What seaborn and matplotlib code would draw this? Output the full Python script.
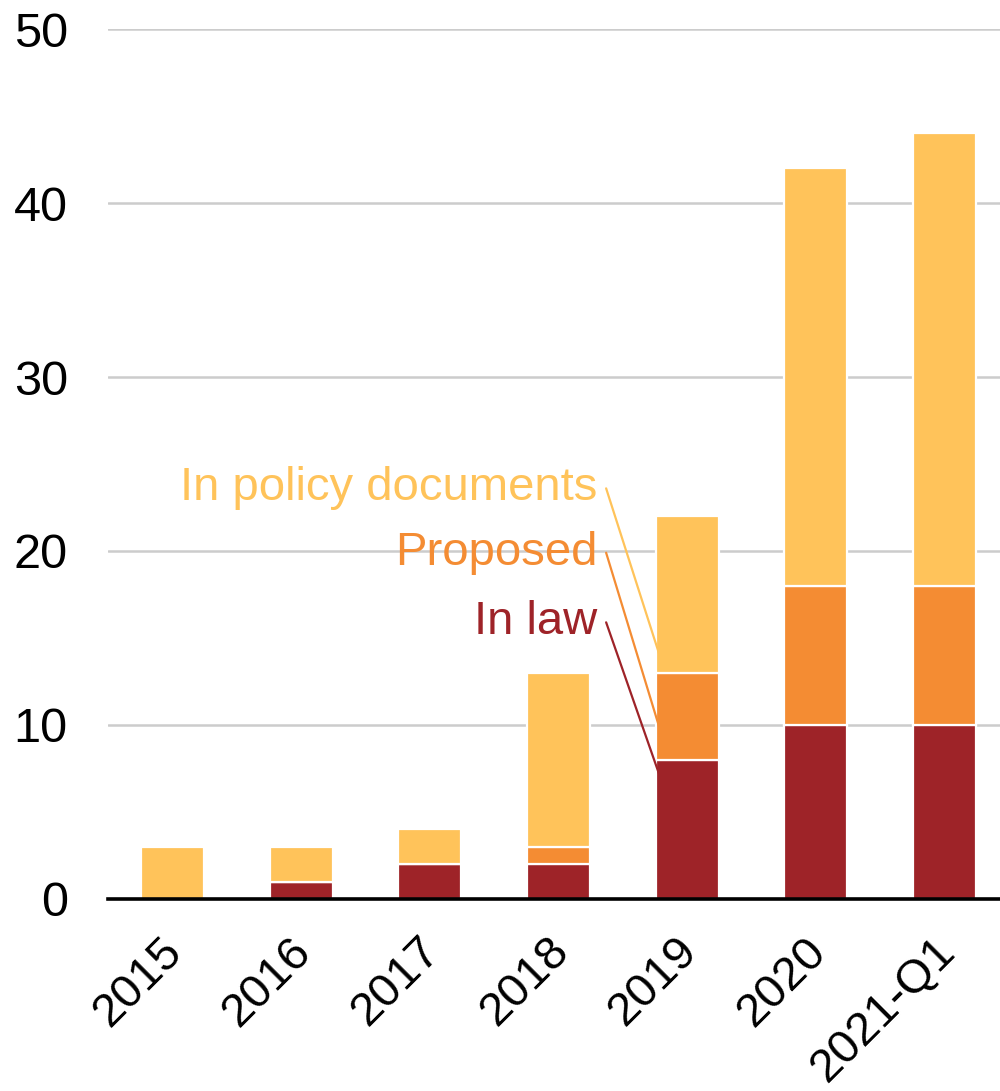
import matplotlib
matplotlib.use("Agg")
import matplotlib.pyplot as plt
import matplotlib.transforms as mtransforms
import seaborn as sns
import numpy as np
import pandas as pd

# Counts by status for each period
periods = ["2015", "2016", "2017", "2018", "2019", "2020", "2021-Q1"]
in_law = [0, 1, 2, 2, 8, 10, 10]
proposed = [0, 0, 0, 1, 5, 8, 8]
in_policy = [3, 2, 2, 10, 9, 24, 26]

c_law = "#9E2328"
c_prop = "#F48C33"
c_policy = "#FFC35A"

sns.set_theme(style="white")
plt.rcParams["font.family"] = ["Liberation Sans", "DejaVu Sans"]

df = pd.DataFrame({"period": periods, "law": in_law, "proposed": proposed, "policy": in_policy})
law_arr = np.array(in_law)
prop_arr = np.array(proposed)

fig = plt.figure(figsize=(10, 10.91), dpi=100)
ax = fig.add_axes([0.108, 0.176, 0.892, 0.7974])

bar_kw = dict(width=0.49, edgecolor="white", linewidth=1.6, saturation=1, order=periods)
sns.barplot(data=df, x="period", y="law", color=c_law, ax=ax, **bar_kw)
sns.barplot(data=df, x="period", y="proposed", color=c_prop, ax=ax, bottom=law_arr, **bar_kw)
sns.barplot(data=df, x="period", y="policy", color=c_policy, ax=ax, bottom=law_arr + prop_arr, **bar_kw)

ax.set_xlim(-0.5, 6.43)
ax.set_ylim(0, 50)
ax.set_yticks([0, 10, 20, 30, 40, 50])
ax.yaxis.grid(True, color="#cccccc", linewidth=1.8)
ax.set_axisbelow(True)
for s in ["top", "right", "left"]:
    ax.spines[s].set_visible(False)
ax.spines["bottom"].set_color("black")
ax.spines["bottom"].set_linewidth(2.6)
ax.spines["bottom"].set_zorder(5)

ax.set_xlabel("")
ax.set_ylabel("")
ax.tick_params(axis="y", length=0, pad=29, labelsize=35, labelcolor="black")
ax.tick_params(axis="x", length=0, pad=8, labelsize=34, labelcolor="black")
shift = mtransforms.ScaledTranslation(-0.12, -0.19, fig.dpi_scale_trans)
for lab in ax.get_xticklabels():
    lab.set_rotation(45)
    lab.set_ha("right")
    lab.set_rotation_mode("anchor")
    lab.set_transform(lab.get_transform() + shift)

# Series labels with leader lines to the 2019 bar
labels = [("In policy documents", c_policy, 23.6, 13.9),
          ("Proposed", c_prop, 19.9, 9.7),
          ("In law", c_law, 15.9, 7.0)]
for text, col, ty, ey in labels:
    ax.text(3.3, ty, text, color=col, fontsize=34, ha="right", va="center")
    ax.plot([3.37, 3.79], [ty, ey], color=col, linewidth=1.6, zorder=4)

fig.savefig("out.png", dpi=100)
